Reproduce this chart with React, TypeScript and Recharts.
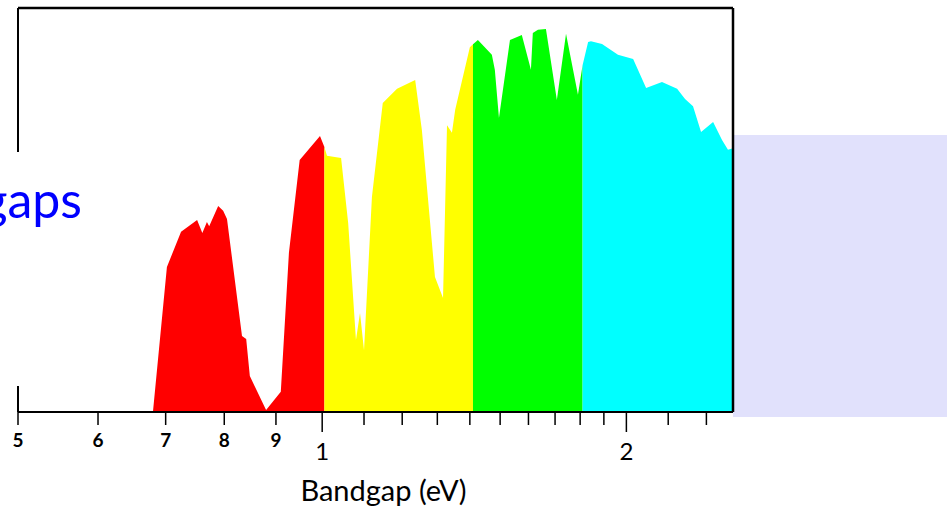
import React from 'react';
import { Area, AreaChart, ReferenceLine, XAxis, YAxis } from 'recharts';

// traced spectrum: photon energy (eV) and relative flux
const energy = [
  0.68, 0.702, 0.725, 0.752, 0.761, 0.769, 0.773, 0.789, 0.798, 0.805, 0.833, 0.841,
  0.848, 0.88, 0.91, 0.927, 0.95, 0.995, 1.005, 1.011, 1.044, 1.061, 1.08, 1.09,
  1.1, 1.12, 1.148, 1.186, 1.236, 1.255, 1.293, 1.317, 1.329, 1.344, 1.354, 1.4,
  1.41, 1.426, 1.472, 1.482, 1.496, 1.534, 1.576, 1.609, 1.616, 1.635, 1.665, 1.707,
  1.743, 1.791, 1.81, 1.833, 1.845, 1.892, 1.962, 2.031, 2.092, 2.169, 2.245, 2.286,
  2.328, 2.371, 2.437, 2.487, 2.521, 2.55,
];
const flux = [
  0, 35.9, 44.6, 47.5, 44.3, 47.0, 46.0, 51.0, 49.8, 47.8, 18.8, 18.1,
  8.9, 0.5, 5.0, 39.4, 62.4, 68.3, 65.6, 63.4, 62.9, 46.8, 17.8, 24.5,
  15.3, 53.2, 76.5, 80.0, 82.2, 69.8, 33.4, 28.2, 71.0, 69.1, 74.8, 90.3,
  91.0, 92.1, 88.4, 84.7, 72.8, 92.1, 93.3, 84.7, 93.8, 94.6, 94.8, 77.2,
  93.6, 78.5, 85.8, 91.6, 91.8, 91.1, 88.4, 87.4, 80.2, 81.7, 80.0, 77.5,
  75.7, 69.3, 71.8, 67.3, 64.9, 65.3,
];

// colour bands and the energies where one band hands over to the next
const bandKeys = ['red', 'yellow', 'green', 'cyan'];
const bandColors = ['#ff0000', '#ffff00', '#00ff00', '#00ffff'];
const bandEdges = [1.005, 1.41, 1.81];

const xDomain = [0.5, 2.55];
const yDomain = [0, 100];

const tickValues = [0.5, 0.6, 0.7, 0.8, 0.9, 1, 1.1, 1.2, 1.3, 1.4, 1.5, 1.6, 1.7, 1.8, 1.9, 2, 2.2, 2.4];
const tickText = ['5', '6', '7', '8', '9', '1', '', '', '', '', '', '', '', '', '', '2', '', ''];
const majorTicks = [1, 2];

const rows = energy.map((e, i) => {
  const row: Record<string, number | null> = { e };
  bandKeys.forEach((key, b) => {
    const lo = b === 0 ? -Infinity : bandEdges[b - 1];
    const hi = b === bandKeys.length - 1 ? Infinity : bandEdges[b];
    row[key] = e >= lo && e <= hi ? flux[i] : null;
  });
  return row;
});

const FONT = 'Lato, "Open Sans", sans-serif';

function EnergyTick(props: any) {
  const { x, y, payload } = props;
  const i = tickValues.indexOf(payload.value);
  const text = tickText[i] || '';
  const major = majorTicks.includes(payload.value);
  return (
    <g>
      <line x1={x} y1={y} x2={x} y2={y + (major ? 20 : 13)} stroke="#000" strokeWidth={1.5} />
      {text && (
        <text
          x={x}
          y={y + (major ? 48 : 35)}
          textAnchor="middle"
          fontFamily={FONT}
          fontSize={major ? 24 : 19}
          fontWeight={major ? 400 : 700}
          fill="#000"
        >
          {text}
        </text>
      )}
    </g>
  );
}

function AxisTitle(props: any) {
  const { viewBox } = props;
  return (
    <text
      x={viewBox.x + viewBox.width / 2 + 8}
      y={viewBox.y + 89}
      textAnchor="middle"
      fontFamily={FONT}
      fontSize={29}
      fill="#000"
    >
      Bandgap (eV)
    </text>
  );
}

export default function App() {
  return (
    <div style={{ position: 'absolute', left: 0, top: 0, width: 947, height: 515, background: '#fff' }}>
      <div style={{ position: 'absolute', left: 733, top: 135, width: 214, height: 282, background: '#e1e1fc' }} />
      <div style={{ position: 'absolute', left: 0, top: 0 }}>
        <AreaChart width={947} height={515} data={rows} margin={{ top: 8, right: 214, bottom: 3, left: 18 }}>
          <XAxis
            dataKey="e"
            type="number"
            scale="log"
            domain={xDomain}
            allowDataOverflow
            ticks={tickValues}
            interval={0}
            height={100}
            tickSize={0}
            tickMargin={0}
            tickLine={false}
            tick={<EnergyTick />}
            axisLine={{ stroke: '#000', strokeWidth: 2 }}
            label={<AxisTitle />}
          />
          <YAxis domain={yDomain} width={0} hide />
          {bandKeys.map((key, b) => (
            <Area
              key={key}
              dataKey={key}
              type="linear"
              stroke="none"
              fill={bandColors[b]}
              fillOpacity={1}
              connectNulls={false}
              isAnimationActive={false}
            />
          ))}
          {/* plot frame */}
          <ReferenceLine x={xDomain[0]} stroke="#000" strokeWidth={2} />
          <ReferenceLine x={xDomain[1]} stroke="#000" strokeWidth={2.5} />
          <ReferenceLine y={yDomain[1]} stroke="#000" strokeWidth={2.5} />
        </AreaChart>
      </div>
      <svg width={100} height={234} style={{ position: 'absolute', left: 0, top: 152 }}>
        <rect x={0} y={0} width={100} height={234} fill="#fff" />
        <text x={82} y={66} textAnchor="end" fontFamily={FONT} fontSize={50} fill="#0000ff">
          Bandgaps
        </text>
      </svg>
    </div>
  );
}
